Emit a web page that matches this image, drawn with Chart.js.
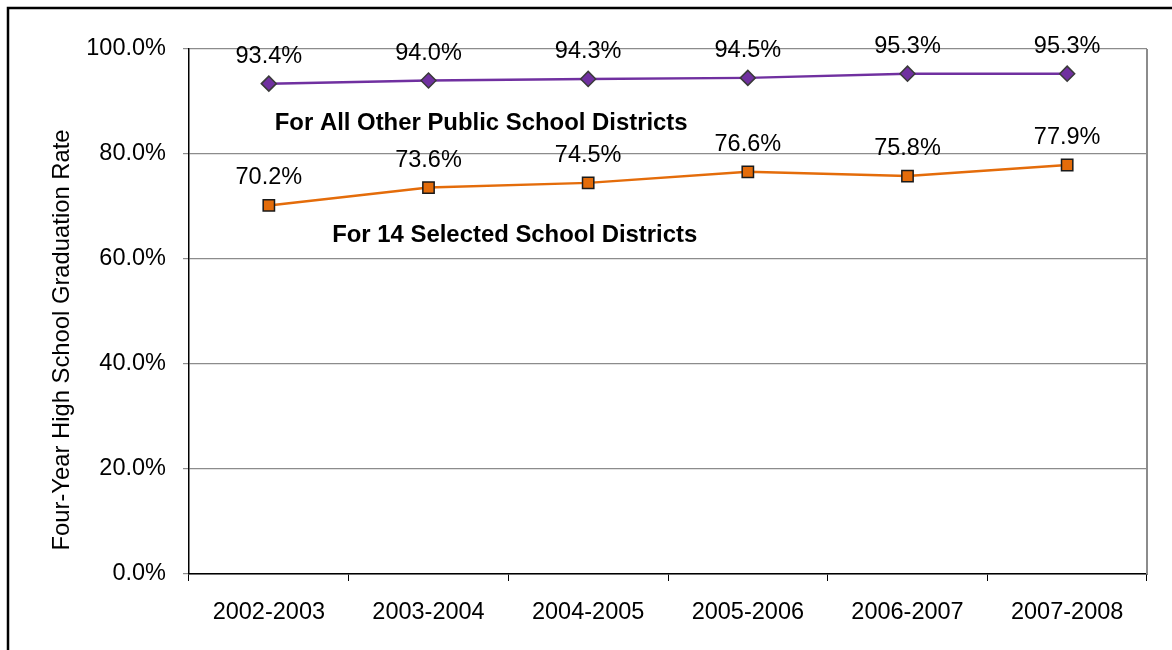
<!DOCTYPE html>
<html>
<head>
    <title>Four-Year High School Graduation Rate</title>
    <script src="https://cdn.jsdelivr.net/npm/chart.js"></script>
    <style>
        body { margin: 0; background: #fff; }
    </style>
</head>
<body>
<canvas id="gradChart" width="1172" height="650"></canvas>
<script>
    const years = ['2002-2003', '2003-2004', '2004-2005', '2005-2006', '2006-2007', '2007-2008'];
    const otherDistricts = [93.4, 94.0, 94.3, 94.5, 95.3, 95.3];
    const selectedDistricts = [70.2, 73.6, 74.5, 76.6, 75.8, 77.9];
    const yTicks = [0, 20, 40, 60, 80, 100];

    const FONT = 'Liberation Sans, Arial, sans-serif';

    // labels next to the lines, plus frame and axis title
    const extras = {
        id: 'extras',
        afterDraw(chart) {
            const ctx = chart.ctx;
            const area = chart.chartArea;
            const x = chart.scales.x;
            const y = chart.scales.y;
            ctx.save();

            // outer frame
            ctx.strokeStyle = '#000';
            ctx.lineWidth = 2.5;
            ctx.strokeRect(8, 8, 1300, 800);

            // right side of plot area
            ctx.strokeStyle = '#8c8c8c';
            ctx.lineWidth = 2;
            ctx.beginPath();
            ctx.moveTo(area.right, area.top);
            ctx.lineTo(area.right, area.bottom);
            ctx.stroke();

            // value labels
            ctx.fillStyle = '#000';
            ctx.font = '23.5px ' + FONT;
            ctx.textAlign = 'center';
            ctx.textBaseline = 'alphabetic';
            chart.data.datasets.forEach((ds, i) => {
                chart.getDatasetMeta(i).data.forEach((pt, j) => {
                    ctx.fillText(ds.data[j].toFixed(1) + '%', pt.x, pt.y - 21);
                });
            });

            // series names
            ctx.font = 'bold 23.9px ' + FONT;
            ctx.fillText('For All Other Public School Districts', x.getPixelForValue(1.33), y.getPixelForValue(84.6));
            ctx.fillText('For 14 Selected School Districts', x.getPixelForValue(1.54), y.getPixelForValue(63.2));

            // y axis title
            ctx.font = '23.8px ' + FONT;
            ctx.translate(62, 340);
            ctx.rotate(-Math.PI / 2);
            ctx.textBaseline = 'middle';
            ctx.fillText('Four-Year High School Graduation Rate', 0, 0);
            ctx.restore();
        }
    };

    new Chart(document.getElementById('gradChart'), {
        type: 'line',
        data: {
            labels: years,
            datasets: [
                {
                    label: 'For All Other Public School Districts',
                    data: otherDistricts,
                    borderColor: '#7030A0',
                    backgroundColor: '#7030A0',
                    borderWidth: 2.5,
                    pointStyle: 'rectRot',
                    pointRadius: 7.5,
                    pointBorderColor: '#3a3a3a',
                    pointBorderWidth: 1.5,
                    fill: false,
                    tension: 0
                },
                {
                    label: 'For 14 Selected School Districts',
                    data: selectedDistricts,
                    borderColor: '#E46C0A',
                    backgroundColor: '#E46C0A',
                    borderWidth: 2.5,
                    pointStyle: 'rect',
                    pointRadius: 8,
                    pointBorderColor: '#1a1a1a',
                    pointBorderWidth: 1.5,
                    fill: false,
                    tension: 0
                }
            ]
        },
        options: {
            responsive: false,
            animation: false,
            layout: { padding: { top: 49, right: 25, left: 0, bottom: 0 } },
            plugins: {
                legend: { display: false },
                tooltip: { enabled: false }
            },
            scales: {
                x: {
                    offset: true,
                    grid: { offset: true, drawOnChartArea: false, color: '#000', tickLength: 7 },
                    border: { color: '#000', width: 1.5 },
                    ticks: { color: '#000', font: { family: FONT, size: 23.5 }, padding: 17, maxRotation: 0 },
                    afterFit(scale) { scale.height = 76; }
                },
                y: {
                    min: 0,
                    max: 100,
                    afterBuildTicks(scale) { scale.ticks = yTicks.map(v => ({ value: v })); },
                    grid: { color: '#8c8c8c', lineWidth: 1.2, tickLength: 6 },
                    border: { color: '#000', width: 1.5 },
                    ticks: {
                        color: '#000',
                        font: { family: FONT, size: 23.5 },
                        padding: 17,
                        callback: v => v.toFixed(1) + '%'
                    },
                    afterFit(scale) { scale.width = 189; }
                }
            }
        },
        plugins: [extras]
    });
</script>
</body>
</html>
